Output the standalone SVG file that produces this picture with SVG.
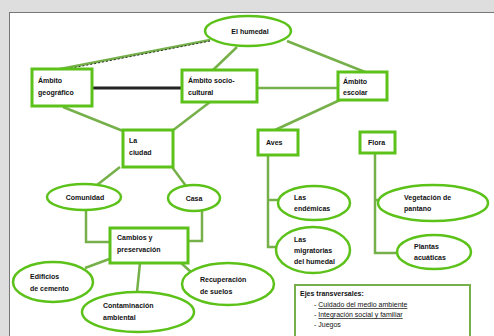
<svg xmlns="http://www.w3.org/2000/svg" width="494" height="336" viewBox="0 0 494 336">
<style>
.n{fill:#fff;stroke:#5cc21a;stroke-width:3}
.e{fill:#fff;stroke:#5cc21a;stroke-width:2.5}
.c{fill:none;stroke:#76b04a;stroke-width:2.5}
.t{font-family:"Liberation Sans",Arial,sans-serif;font-size:7px;font-weight:bold;fill:#111}
.l{font-family:"Liberation Sans",Arial,sans-serif;font-size:7px;fill:#111}
</style>
<rect x="0" y="0" width="494" height="336" fill="#dedede"/>
<rect x="9.5" y="12.5" width="490" height="330" fill="#fff" stroke="#777" stroke-width="1"/>
<g id="connectors">
<line class="c" x1="210" y1="40" x2="60" y2="69"/>
<line x1="210" y1="41" x2="62" y2="70" stroke="#333" stroke-width="1" stroke-dasharray="2 2"/>
<line class="c" x1="237" y1="47" x2="213" y2="70"/>
<line class="c" x1="287" y1="41" x2="365" y2="72"/>
<line x1="92" y1="88" x2="182" y2="88" stroke="#222" stroke-width="3"/>
<line class="c" x1="257" y1="88" x2="338" y2="88"/>
<line class="c" x1="63" y1="107" x2="123" y2="131"/>
<line class="c" x1="210" y1="102" x2="172" y2="131"/>
<line class="c" x1="340" y1="100" x2="275" y2="130"/>
<line class="c" x1="120" y1="167" x2="97" y2="185"/>
<line class="c" x1="172" y1="167" x2="186" y2="186"/>
<polyline class="c" points="86,210 86,242 110,242"/>
<polyline class="c" points="202,211 202,241 188,241"/>
<line class="c" x1="112" y1="258" x2="85" y2="268"/>
<line class="c" x1="140" y1="263" x2="137" y2="292"/>
<line class="c" x1="180" y1="262" x2="192" y2="273"/>
<polyline class="c" points="268,155 268,247 280,247"/>
<line class="c" x1="268" y1="200" x2="279" y2="200"/>
<polyline class="c" points="375,153 375,253 398,253"/>
<line class="c" x1="375" y1="200" x2="379" y2="200"/>
</g>
<g id="n-top"><ellipse class="e" cx="248" cy="31" rx="43" ry="15"/><text class="t" x="250" y="34" text-anchor="middle">El humedal</text></g>
<g id="n-geo"><rect class="n" x="32" y="69" width="60" height="37"/><text class="t" x="38" y="83">Ámbito</text><text class="t" x="38" y="95">geográfico</text></g>
<g id="n-soc"><rect class="n" x="182" y="70" width="75" height="32"/><text class="t" x="188" y="83">Ámbito socio-</text><text class="t" x="188" y="95">cultural</text></g>
<g id="n-esc"><rect class="n" x="338" y="72" width="49" height="28"/><text class="t" x="343" y="84">Ámbito</text><text class="t" x="343" y="95">escolar</text></g>
<g id="n-ciudad"><rect class="n" x="123" y="130" width="50" height="37"/><text class="t" x="129" y="143">La</text><text class="t" x="129" y="155">ciudad</text></g>
<g id="n-com"><ellipse class="e" cx="84" cy="197" rx="37" ry="13"/><text class="t" x="85" y="200" text-anchor="middle">Comunidad</text></g>
<g id="n-casa"><ellipse class="e" cx="194" cy="198" rx="26" ry="13"/><text class="t" x="194" y="201" text-anchor="middle">Casa</text></g>
<g id="n-cambios"><rect class="n" x="110" y="228" width="78" height="35"/><text class="t" x="117" y="240">Cambios y</text><text class="t" x="117" y="252">preservación</text></g>
<g id="n-edif"><ellipse class="e" cx="53" cy="282" rx="40" ry="20"/><text class="t" x="30" y="279">Edificios</text><text class="t" x="30" y="291">de cemento</text></g>
<g id="n-cont"><ellipse class="e" cx="138" cy="312" rx="56" ry="20"/><text class="t" x="103" y="308">Contaminación</text><text class="t" x="103" y="320">ambiental</text></g>
<g id="n-recu"><ellipse class="e" cx="228" cy="284" rx="46" ry="21"/><text class="t" x="200" y="282">Recuperación</text><text class="t" x="200" y="294">de suelos</text></g>
<g id="n-aves"><rect class="n" x="258" y="130" width="40" height="25"/><text class="t" x="266" y="145">Aves</text></g>
<g id="n-flora"><rect class="n" x="360" y="132" width="35" height="21"/><text class="t" x="368" y="145">Flora</text></g>
<g id="n-end"><ellipse class="e" cx="314" cy="203" rx="36" ry="17"/><text class="t" x="294" y="200">Las</text><text class="t" x="294" y="211">endémicas</text></g>
<g id="n-mig"><ellipse class="e" cx="313" cy="250" rx="37" ry="23"/><text class="t" x="294" y="242">Las</text><text class="t" x="294" y="253">migratorias</text><text class="t" x="294" y="264">del humedal</text></g>
<g id="n-veg"><ellipse class="e" cx="433" cy="203" rx="55" ry="18"/><text class="t" x="404" y="200">Vegetación de</text><text class="t" x="404" y="211">pantano</text></g>
<g id="n-pla"><ellipse class="e" cx="434" cy="252" rx="37" ry="17"/><text class="t" x="414" y="249">Plantas</text><text class="t" x="414" y="260">acuáticas</text></g>
<g id="n-note"><rect x="295" y="285" width="175" height="55" fill="#fff" stroke="#76b04a" stroke-width="2"/>
<text class="t" x="300" y="296">Ejes transversales:</text>
<text class="l" x="314" y="307">-   <tspan text-decoration="underline">Cuidado del medio ambiente</tspan></text>
<text class="l" x="314" y="317">-   <tspan text-decoration="underline">Integración social y familiar</tspan></text>
<text class="l" x="314" y="327">-   Juegos</text></g>
</svg>
